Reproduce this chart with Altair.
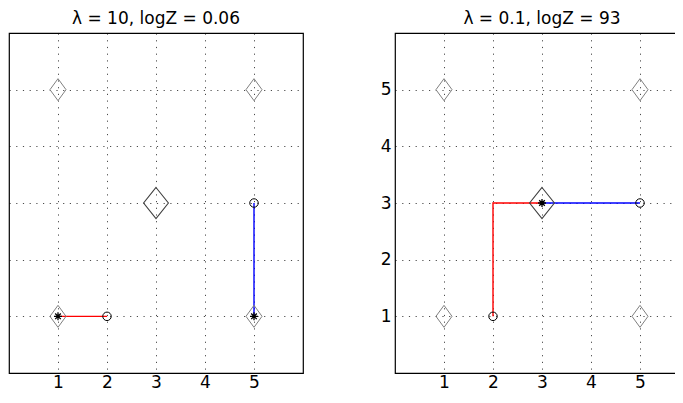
import altair as alt
import pandas as pd

tick_vals = [1, 2, 3, 4, 5]
titles = ["λ = 10, logZ = 0.06", "λ = 0.1, logZ = 93"]

# grey reference diamonds (same in both panels)
small_x = [1, 5, 1, 5]
small_y = [5, 5, 1, 1]
big_x = [3]
big_y = [3]

# panel 1
p1_star_x = [1, 5]
p1_star_y = [1, 1]
p1_circ_x = [2, 5]
p1_circ_y = [1, 3]
p1_red_x = [1, 2]
p1_red_y = [1, 1]
p1_blue_x = [5, 5]
p1_blue_y = [1, 3]

# panel 2
p2_star_x = [3]
p2_star_y = [3]
p2_circ_x = [2, 5]
p2_circ_y = [1, 3]
p2_red_x = [2, 2, 3]
p2_red_y = [1, 3, 3]
p2_blue_x = [3, 5]
p2_blue_y = [3, 3]

FONT = "DejaVu Sans"
SMALL_DIAMOND = "M0,-1L0.73,0L0,1L-0.73,0Z"
BIG_DIAMOND = "M0,-1L0.8,0L0,1L-0.8,0Z"
STAR = "M-1,0L1,0M0,-1L0,1M-0.7,-0.7L0.7,0.7M-0.7,0.7L0.7,-0.7"


def df(xs, ys):
    return pd.DataFrame({"x": xs, "y": ys, "i": list(range(len(xs)))})


def panel(title, star, circ, red, blue, show_y_labels):
    xs = alt.Scale(domain=[0, 6], nice=False, zero=False)
    ys = alt.Scale(domain=[0, 6], nice=False, zero=False)
    xa = alt.Axis(values=tick_vals, grid=True, ticks=False, tickSize=0, domain=False,
                  labelPadding=1.5, title=None)
    ya = alt.Axis(values=tick_vals, grid=True, ticks=False, tickSize=0, domain=False,
                  labelPadding=4, labels=show_y_labels, title=None)
    X = alt.X("x:Q", scale=xs, axis=xa)
    Y = alt.Y("y:Q", scale=ys, axis=ya)

    red_l = alt.Chart(df(*red)).mark_line(color="#ff0000", strokeWidth=1.4).encode(
        x=X, y=Y, order="i:Q")
    blue_l = alt.Chart(df(*blue)).mark_line(color="#0000ff", strokeWidth=1.4).encode(
        x=X, y=Y, order="i:Q")
    small_d = alt.Chart(df(small_x, small_y)).mark_point(
        shape=SMALL_DIAMOND, size=484, filled=False, color="#808080", strokeWidth=1, opacity=1
    ).encode(x=X, y=Y)
    big_d = alt.Chart(df(big_x, big_y)).mark_point(
        shape=BIG_DIAMOND, size=961, filled=False, color="#404040", strokeWidth=1.1, opacity=1
    ).encode(x=X, y=Y)
    circles = alt.Chart(df(*circ)).mark_point(
        shape="circle", size=72, filled=False, color="#000000", strokeWidth=1, opacity=1
    ).encode(x=X, y=Y)
    stars = alt.Chart(df(*star)).mark_point(
        shape=STAR, size=64, filled=False, color="#000000", strokeWidth=1.3, opacity=1
    ).encode(x=X, y=Y)

    return alt.layer(red_l, blue_l, small_d, big_d, circles, stars).properties(
        width=294, height=340, title=title)


left = panel(titles[0], (p1_star_x, p1_star_y), (p1_circ_x, p1_circ_y),
             (p1_red_x, p1_red_y), (p1_blue_x, p1_blue_y), False)
right = panel(titles[1], (p2_star_x, p2_star_y), (p2_circ_x, p2_circ_y),
              (p2_red_x, p2_red_y), (p2_blue_x, p2_blue_y), True)

chart = alt.hconcat(left, right, spacing=92, bounds="flush").properties(
    padding={"left": 0, "top": 1, "right": -15, "bottom": -3.5}, background="white"
).configure_view(
    stroke="#000000", strokeWidth=1.2
).configure_axis(
    gridColor="#000000", gridOpacity=0.7, gridDash=[1.2, 5.5], gridWidth=1,
    labelFont=FONT, labelFontSize=17, labelColor="#000000"
).configure_title(
    font=FONT, fontSize=17, fontWeight="normal", color="#000000", offset=5, anchor="middle"
)

chart.save("out.html", embed_options={"renderer": "svg", "actions": False})
